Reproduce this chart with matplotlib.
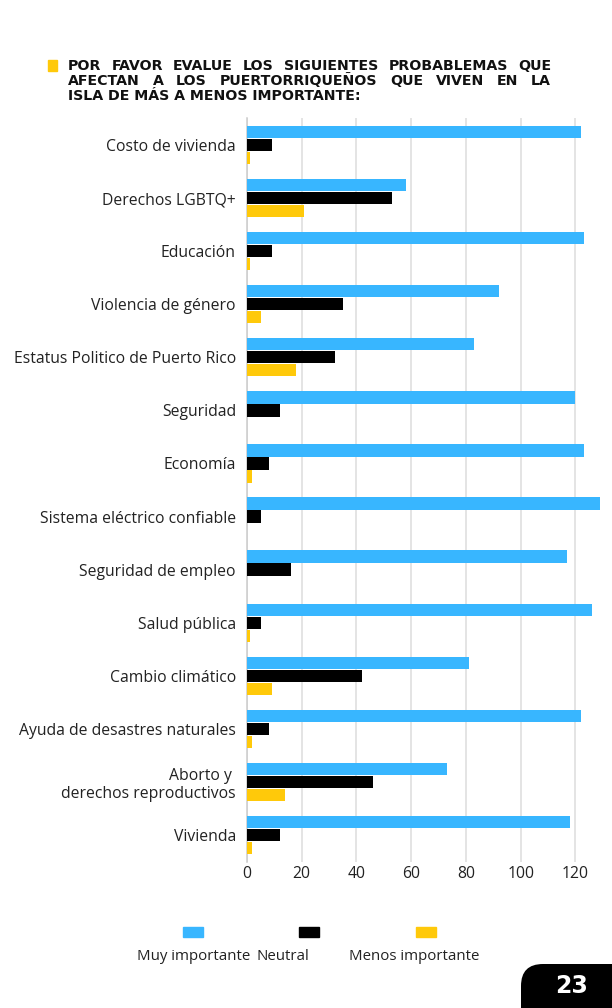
import matplotlib
matplotlib.use("Agg")
import matplotlib.pyplot as plt
from matplotlib.patches import FancyBboxPatch, Rectangle

plt.rcParams["font.family"] = ["Open Sans", "DejaVu Sans"]

categories = [
    "Costo de vivienda",
    "Derechos LGBTQ+",
    "Educación",
    "Violencia de género",
    "Estatus Politico de Puerto Rico",
    "Seguridad",
    "Economía",
    "Sistema eléctrico confiable",
    "Seguridad de empleo",
    "Salud pública",
    "Cambio climático",
    "Ayuda de desastres naturales",
    "Aborto y \nderechos reproductivos",
    "Vivienda",
]
muy_importante = [122, 58, 123, 92, 83, 120, 123, 129, 117, 126, 81, 122, 73, 118]
neutral = [9, 53, 9, 35, 32, 12, 8, 5, 16, 5, 42, 8, 46, 12]
menos_importante = [1, 21, 1, 5, 18, 0, 2, 0, 0, 1, 9, 2, 14, 2]
series_names = ["Muy importante", "Neutral", "Menos importante"]
xticks = [0, 20, 40, 60, 80, 100, 120]

title_lines = [
    "POR FAVOR EVALUE LOS SIGUIENTES PROBABLEMAS QUE",
    "AFECTAN A LOS PUERTORRIQUEÑOS QUE VIVEN EN LA",
    "ISLA DE MÁS A MENOS IMPORTANTE:",
]
page_number = "23"

BLUE = "#38B6FF"
BLACK = "#000000"
YELLOW = "#FFC90A"
TXT = "#222222"
FS = 11.3

W, H = 612, 1008
fig = plt.figure(figsize=(W / 100, H / 100), dpi=100)

# overlay in pixel coordinates for title, legend and page badge
over = fig.add_axes([0, 0, 1, 1])
over.set_xlim(0, W)
over.set_ylim(H, 0)
over.axis("off")

# chart
ax = fig.add_axes([247 / W, 146.5 / H, 353 / W, 743 / H])
ypos = list(range(len(categories)))
bh = 0.232
off = 0.245
ax.barh([y - off for y in ypos], muy_importante, height=bh, color=BLUE, zorder=3)
ax.barh(ypos, neutral, height=bh, color=BLACK, zorder=3)
ax.barh([y + off for y in ypos], menos_importante, height=bh, color=YELLOW, zorder=3)

ax.set_ylim(len(categories) - 0.5, -0.5)
ax.set_xlim(0, 129)
ax.set_yticks(ypos)
ax.set_yticklabels(categories, fontsize=FS, color=TXT, linespacing=1.15)
ax.set_xticks(xticks)
ax.set_xticklabels([str(t) for t in xticks], fontsize=FS, color=TXT)
ax.tick_params(axis="both", length=0)
ax.tick_params(axis="y", pad=8)
ax.tick_params(axis="x", pad=3)
for s in ["top", "right", "bottom"]:
    ax.spines[s].set_visible(False)
ax.spines["left"].set_color("#cccccc")
ax.spines["left"].set_linewidth(1.1)
ax.grid(axis="x", color="#dddddd", linewidth=1.1, zorder=0)
ax.set_axisbelow(True)

# title with justified lines
renderer = fig.canvas.get_renderer()
title_kw = dict(fontsize=10.2, fontweight="bold", color="#111111", va="baseline",
                ha="left", family="DejaVu Sans")
x0, x1 = 68, 551
baselines = [69.5, 85, 99.5]
for i, line in enumerate(title_lines):
    if i < len(title_lines) - 1:
        words = line.split()
        texts = [over.text(0, baselines[i], w, **title_kw) for w in words]
        widths = [t.get_window_extent(renderer).width for t in texts]
        gap = (x1 - x0 - sum(widths)) / (len(words) - 1)
        x = x0
        for t, w in zip(texts, widths):
            t.set_x(x)
            x += w + gap
    else:
        over.text(x0, baselines[i], line, **title_kw)
over.add_patch(Rectangle((47.5, 59.5), 9.5, 11, color=YELLOW))

# legend
colors = [BLUE, BLACK, YELLOW]
swatch_x = [183, 299, 416]
label_x = [137, 257, 349]
for name, c, sx, lx in zip(series_names, colors, swatch_x, label_x):
    over.add_patch(Rectangle((sx, 927), 20, 10, color=c))
    over.text(lx, 960, name, fontsize=10.8, color=TXT, va="baseline", ha="left")

# page badge
over.add_patch(FancyBboxPatch((521, 964), 130, 80,
                              boxstyle="round,pad=0,rounding_size=22",
                              facecolor=BLACK, edgecolor="none"))
over.text(572, 986, page_number, fontsize=17, fontweight="bold", color="white",
          ha="center", va="center", family="DejaVu Sans")

fig.savefig("out.png", dpi=100)
